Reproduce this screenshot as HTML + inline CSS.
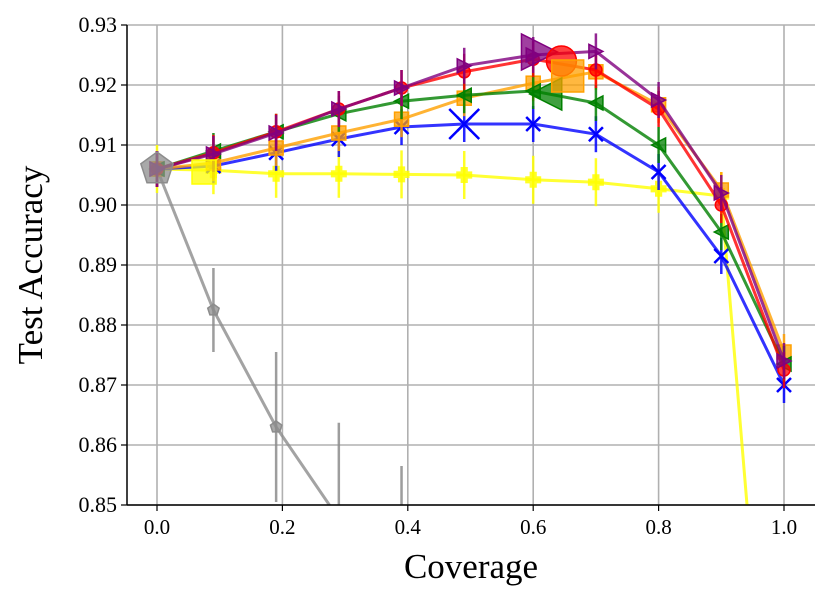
<!DOCTYPE html>
<html><head><meta charset="utf-8"><style>
html,body{margin:0;padding:0;background:#fff;width:830px;height:602px;overflow:hidden}
svg{display:block;font-family:"Liberation Serif","DejaVu Serif",serif}
</style></head><body>
<svg id="chart" width="830" height="602"></svg>
<script>
const coverage=[0,0.09,0.19,0.29,0.39,0.49,0.6,0.7,0.8,0.9,1.0];
const purpleVals=[0.906,0.9085,0.912,0.916,0.9195,0.9232,0.925,0.9256,0.9175,0.902,0.874];
const redVals=[0.906,0.9087,0.9122,0.916,0.9195,0.9222,0.9243,0.9225,0.916,0.900,0.8725];
const greenVals=[0.906,0.909,0.9122,0.9152,0.9173,0.9183,0.919,0.917,0.910,0.8955,0.8735];
const orangeVals=[0.906,0.907,0.9095,0.912,0.9143,0.9178,0.9203,0.9222,0.9167,0.9025,0.8755];
const blueVals=[0.906,0.9065,0.9087,0.911,0.913,0.9135,0.9135,0.9118,0.9055,0.8915,0.870];
const yellowVals=[0.906,0.9058,0.9052,0.9052,0.9051,0.905,0.9042,0.9038,0.9027,0.9015,0.776];
const grayCoverage=[0,0.09,0.19,0.29,0.39];
const grayVals=[0.906,0.8825,0.863,0.8477,0.832];
const grayErr=[0.003,0.007,0.0125,0.016,0.0245];
const stdErr=0.003;
const yellowErr=0.004;
const xTicks=[0,0.2,0.4,0.6,0.8,1.0];
const xTickLabels=["0.0","0.2","0.4","0.6","0.8","1.0"];
const yTicks=[0.85,0.86,0.87,0.88,0.89,0.90,0.91,0.92,0.93];
const yTickLabels=["0.85","0.86","0.87","0.88","0.89","0.90","0.91","0.92","0.93"];
const bigMarkers=[["gray",0,0.906],["yellow",0.075,0.9055],["blue",0.49,0.9135],["green",0.62,0.9185],["purple",0.61,0.9255],["red",0.645,0.924],["orange",0.655,0.9215]];

const L=127,R=815,T=25,B=505;
const X=v=>157+627*v;
const Y=v=>T+(0.93-v)*6000;
const svg=document.getElementById('chart');
const NS='http://www.w3.org/2000/svg';
function mk(tag,at,parent){const e=document.createElementNS(NS,tag);for(const k in at)e.setAttribute(k,at[k]);(parent||svg).appendChild(e);return e;}
const defs=mk('defs',{});const cp=mk('clipPath',{id:'clip'},defs);mk('rect',{x:L,y:T,width:R-L,height:B-T},cp);
const grid=mk('g',{});


xTicks.forEach((t,i)=>{
 mk('line',{x1:X(t),x2:X(t),y1:T,y2:B,stroke:'#b0b0b0','stroke-width':1.6},grid);
 mk('line',{x1:X(t),x2:X(t),y1:B,y2:B+6,stroke:'#000','stroke-width':1.2});
 const tx=mk('text',{x:X(t),y:B+29,'font-size':21,'text-anchor':'middle'});tx.textContent=xTickLabels[i];
 
 
});
yTicks.forEach((t,i)=>{
 mk('line',{x1:L,x2:R,y1:Y(t),y2:Y(t),stroke:'#b0b0b0','stroke-width':1.6},grid);
 mk('line',{x1:L-6,x2:L,y1:Y(t),y2:Y(t),stroke:'#000','stroke-width':1.2});
 const tx=mk('text',{x:L-10,y:Y(t)+7,'font-size':22,'text-anchor':'end'});tx.textContent=yTickLabels[i];
 
 
});
const plot=mk('g',{'clip-path':'url(#clip)'});
function marker(g,type,x,y,s,col){
 const o={fill:col,'fill-opacity':0.75,stroke:col,'stroke-width':1.5};
 if(type==='circle')mk('circle',{cx:x,cy:y,r:s,...o},g);
 else if(type==='square')mk('rect',{x:x-s,y:y-s,width:2*s,height:2*s,...o},g);
 else if(type==='tright')mk('polygon',{points:`${x+s},${y} ${x-s},${y-s} ${x-s},${y+s}`,...o},g);
 else if(type==='tleft')mk('polygon',{points:`${x-s},${y} ${x+s},${y-s} ${x+s},${y+s}`,...o},g);
 else if(type==='x'){mk('path',{d:`M${x-s} ${y-s}L${x+s} ${y+s}M${x-s} ${y+s}L${x+s} ${y-s}`,stroke:col,'stroke-width':2.5,fill:'none'},g);}
 else if(type==='plus'){mk('path',{d:`M${x-s} ${y}L${x+s} ${y}M${x} ${y-s}L${x} ${y+s}`,stroke:col,'stroke-width':s*0.9,fill:'none','stroke-opacity':0.85},g);}
 else if(type==='pent'){let p=[];for(let k=0;k<5;k++){const a=-Math.PI/2+k*2*Math.PI/5;p.push((x+s*Math.cos(a))+','+(y+s*Math.sin(a)));}mk('polygon',{points:p.join(' '),...o},g);}
}
function series(name,xs,vals,errs,col,type,size){
 const g=mk('g',{},plot);
 
 
 xs.forEach((c,i)=>{const e=Array.isArray(errs)?errs[i]:errs;mk('line',{x1:X(c),x2:X(c),y1:Y(vals[i]-e),y2:Y(vals[i]+e),stroke:col,'stroke-width':2.5,'stroke-opacity':0.85},g);});
 mk('polyline',{points:xs.map((c,i)=>X(c)+','+Y(vals[i])).join(' '),fill:'none',stroke:col,'stroke-width':3,'stroke-opacity':0.8},g);
 xs.forEach((c,i)=>marker(g,type,X(c),Y(vals[i]),size,col));
}
series('gray',grayCoverage,grayVals,grayErr,'#8c8c8c','pent',6);
series('yellow',coverage,yellowVals,yellowErr,'#ffff00','plus',8);
series('blue',coverage,blueVals,stdErr,'#0000ff','x',7);
series('orange',coverage,orangeVals,stdErr,'#ffa000','square',7);
series('green',coverage,greenVals,stdErr,'#008000','tleft',7);
series('red',coverage,redVals,stdErr,'#ff0000','circle',6);
series('purple',coverage,purpleVals,stdErr,'#800080','tright',7);
const typeOf={gray:['pent','#8c8c8c',17],yellow:['square','#ffff00',12],blue:['x','#0000ff',15],green:['tleft','#008000',16],purple:['tright','#800080',18],red:['circle','#ff0000',15],orange:['square','#ffa000',16]};
const bg=mk('g',{},plot);


bigMarkers.forEach(m=>{const t=typeOf[m[0]];marker(bg,t[0],X(m[1]),Y(m[2]),t[2],t[1]);});
mk('line',{x1:L,x2:L,y1:T,y2:B,stroke:'#000','stroke-width':1.5});
mk('line',{x1:L,x2:R,y1:B,y2:B,stroke:'#000','stroke-width':1.5});
const xt=mk('text',{x:471,y:578,'font-size':35,'text-anchor':'middle'});xt.textContent='Coverage';


const yt=mk('text',{x:0,y:0,'font-size':35,'text-anchor':'middle',transform:'translate(42,265) rotate(-90)'});yt.textContent='Test Accuracy';


</script>
</body></html>
